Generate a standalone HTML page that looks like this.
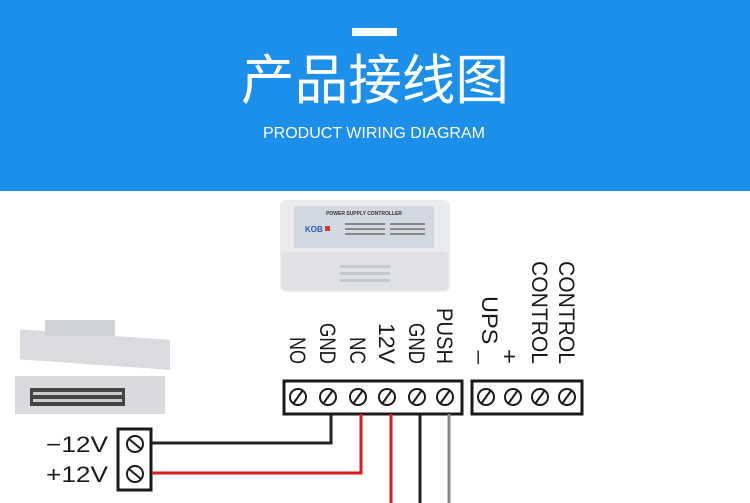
<!DOCTYPE html>
<html><head><meta charset="utf-8"><style>
html,body{margin:0;padding:0;width:750px;height:503px;overflow:hidden;background:#fff}
svg{display:block}
</style></head><body>
<svg width="750" height="503" viewBox="0 0 750 503" xmlns="http://www.w3.org/2000/svg">
<rect x="0" y="0" width="750" height="191" fill="#1b8fea"/>
<rect x="352" y="28" width="45" height="8" fill="#fff"/>
<text x="375" y="99" text-anchor="middle" font-family="Noto Sans CJK SC, sans-serif" font-size="54" fill="#fff" textLength="268" lengthAdjust="spacingAndGlyphs">产品接线图</text>
<text x="374" y="138" text-anchor="middle" font-family="Liberation Sans, sans-serif" font-size="16" fill="#fff" textLength="222" lengthAdjust="spacingAndGlyphs">PRODUCT WIRING DIAGRAM</text>

<!-- controller box -->
<rect x="280" y="200" width="170" height="92" rx="6" fill="#e9ebee"/>
<rect x="282" y="252" width="166" height="38" rx="4" fill="#dfe1e4"/>
<rect x="294" y="206" width="140" height="42" fill="#d3d9e3"/>
<text x="364" y="215" text-anchor="middle" font-family="Liberation Sans, sans-serif" font-size="5" font-weight="bold" fill="#333">POWER SUPPLY CONTROLLER</text>
<text x="305" y="232" font-family="Liberation Sans, sans-serif" font-size="8" font-weight="bold" fill="#2a5db0">KOB</text>
<rect x="325" y="226" width="5" height="5" fill="#d33"/>
<g fill="#888"><rect x="345" y="223" width="40" height="2"/><rect x="345" y="228" width="40" height="2"/><rect x="345" y="233" width="40" height="2"/><rect x="390" y="223" width="35" height="2"/><rect x="390" y="228" width="35" height="2"/><rect x="390" y="233" width="35" height="2"/></g>
<g fill="#c5c8cc"><rect x="340" y="265" width="50" height="3"/><rect x="340" y="272" width="50" height="3"/><rect x="340" y="279" width="50" height="3"/></g>

<!-- locks -->
<rect x="20" y="330" width="150" height="30" fill="#d9dbdf" transform="skewY(4) translate(0,-2)"/>
<rect x="45" y="320" width="70" height="16" fill="#cfd2d6"/>
<rect x="15" y="376" width="150" height="38" fill="#d8dadd"/>
<rect x="30" y="388" width="95" height="18" fill="#444"/>
<rect x="33" y="392" width="89" height="3" fill="#ccc"/><rect x="33" y="399" width="89" height="3" fill="#ccc"/>

<!-- terminal blocks -->
<g fill="none" stroke="#1a1a1a" stroke-width="3">
<rect x="284" y="381" width="178" height="33"/>
<rect x="472" y="381" width="110" height="33"/>
<rect x="118" y="429" width="33" height="61"/>
</g>
<g fill="none" stroke="#1a1a1a" stroke-width="2">
<circle cx="298" cy="397" r="8"/><circle cx="328" cy="397" r="8"/><circle cx="358" cy="397" r="8"/><circle cx="387" cy="397" r="8"/><circle cx="417" cy="397" r="8"/><circle cx="445" cy="397" r="8"/>
<circle cx="486" cy="397" r="8"/><circle cx="513" cy="397" r="8"/><circle cx="540" cy="397" r="8"/><circle cx="567" cy="397" r="8"/>
<circle cx="135" cy="444" r="8"/><circle cx="135" cy="474" r="8"/>
<path d="M293 404L303 390M323 404L333 390M353 404L363 390M382 404L392 390M412 404L422 390M440 404L450 390M481 404L491 390M508 404L518 390M535 404L545 390M562 404L572 390"/>
<path d="M129 439L141 449M129 469L141 479"/>
</g>

<!-- wires -->
<g fill="none" stroke-width="3">
<path d="M152 443H331V414" stroke="#222"/>
<path d="M152 473H361V414" stroke="#e01b1b"/>
<path d="M391 414V503" stroke="#e01b1b"/>
<path d="M420 414V503" stroke="#222"/>
<path d="M449 414V503" stroke="#888"/>
</g>

<g font-family="Liberation Sans, sans-serif" font-size="22" fill="#1a1a1a">
<text x="46" y="452" textLength="62" lengthAdjust="spacingAndGlyphs">−12V</text>
<text x="46" y="482" textLength="62" lengthAdjust="spacingAndGlyphs">+12V</text>
</g>
<g font-family="Liberation Sans, sans-serif" font-size="22" fill="#1a1a1a" text-anchor="end" lengthAdjust="spacingAndGlyphs">
<text transform="translate(290,364) rotate(90)" textLength="27" lengthAdjust="spacingAndGlyphs">NO</text>
<text transform="translate(320,364) rotate(90)" textLength="41" lengthAdjust="spacingAndGlyphs">GND</text>
<text transform="translate(350,364) rotate(90)" textLength="27" lengthAdjust="spacingAndGlyphs">NC</text>
<text transform="translate(379,364) rotate(90)" textLength="41" lengthAdjust="spacingAndGlyphs">12V</text>
<text transform="translate(409,364) rotate(90)" textLength="41" lengthAdjust="spacingAndGlyphs">GND</text>
<text transform="translate(437,364) rotate(90)" textLength="56" lengthAdjust="spacingAndGlyphs">PUSH</text>
<text transform="translate(482,364) rotate(90)" textLength="68" lengthAdjust="spacingAndGlyphs">UPS _</text>
<text transform="translate(502,364) rotate(90)" textLength="15" lengthAdjust="spacingAndGlyphs">+</text>
<text transform="translate(532,364) rotate(90)" textLength="103" lengthAdjust="spacingAndGlyphs">CONTROL</text>
<text transform="translate(559,364) rotate(90)" textLength="103" lengthAdjust="spacingAndGlyphs">CONTROL</text>
</g>
</svg>
</body></html>
